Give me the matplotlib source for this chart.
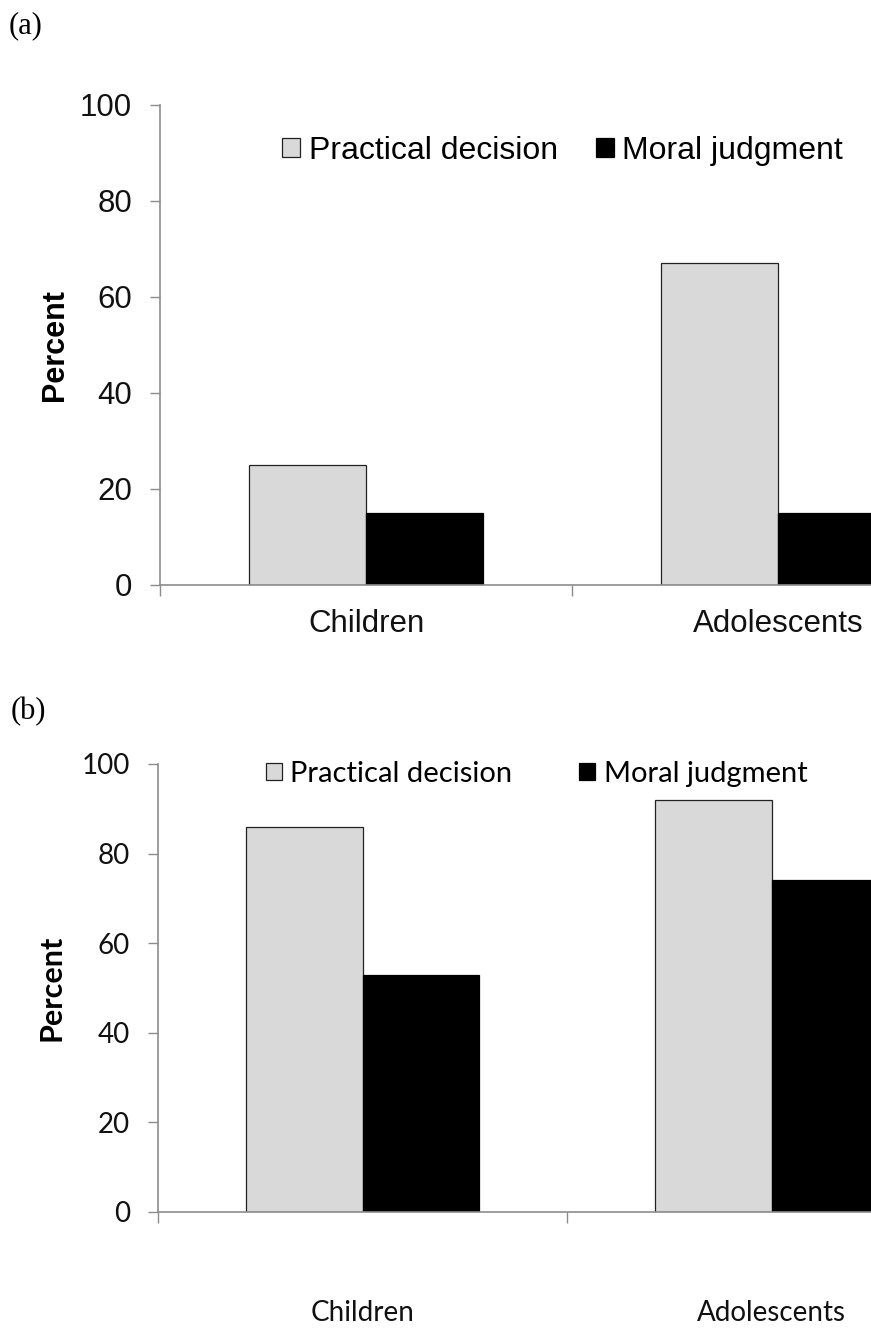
import matplotlib
matplotlib.use('Agg')
import matplotlib.pyplot as plt
import numpy as np

groups = ['Children', 'Adolescents']
series = ['Practical decision', 'Moral judgment']
practical_a = [25, 67]
moral_a = [15, 15]
practical_b = [86, 92]
moral_b = [53, 74]
yticks = [0, 20, 40, 60, 80, 100]

light = '#d9d9d9'
spine_col = '#8c8c8c'

W, H = 871, 1331
fig = plt.figure(figsize=(W / 100, H / 100), dpi=100)


def panel(rect, practical, moral, font, tick_size, xpad, label_size, labelpad,
          leg_size, leg_anchor, colspace):
    ax = fig.add_axes(rect)
    x = np.arange(len(groups))
    w = 0.285
    ax.bar(x - w / 2, practical, w, color=light, edgecolor='#222222', linewidth=0.9,
           label=series[0])
    ax.bar(x + w / 2, moral, w, color='black', edgecolor='black', linewidth=0.9,
           label=series[1])
    ax.set_xlim(-0.5, 1.5)
    ax.set_ylim(0, 100)
    ax.set_yticks(yticks)
    ax.set_yticklabels([str(v) for v in yticks], family=font, fontsize=tick_size,
                       color='#111111')
    ax.set_xticks(x)
    ax.set_xticklabels(groups, family=font, fontsize=tick_size, color='#111111')
    ax.set_xticks([-0.5, 0.5, 1.5], minor=True)
    ax.tick_params(axis='x', which='major', length=0, pad=xpad)
    ax.tick_params(axis='x', which='minor', length=8, color=spine_col, width=1)
    ax.tick_params(axis='y', length=7, color=spine_col, width=1, pad=13)
    for s in ['top', 'right']:
        ax.spines[s].set_visible(False)
    for s in ['left', 'bottom']:
        ax.spines[s].set_color(spine_col)
        ax.spines[s].set_linewidth(1.2)
    ax.set_ylabel('Percent', family=font, fontsize=label_size, fontweight='bold',
                  labelpad=labelpad)
    ax.legend(loc='center left', bbox_to_anchor=leg_anchor,
              bbox_transform=fig.transFigure, ncol=2, frameon=False,
              borderpad=0, borderaxespad=0,
              handlelength=0.55, handleheight=0.55, handletextpad=0.28,
              columnspacing=colspace, prop={'family': font, 'size': leg_size})
    return ax


panel([160 / W, 1 - 585 / H, 824 / W, 480 / H], practical_a, moral_a,
      ['Liberation Sans'], 22.5, 17.5, 22, 7.5, 23, (282 / W, 1 - 151 / H), 1.2)

panel([158 / W, 1 - 1212 / H, 818 / W, 448 / H], practical_b, moral_b,
      ['Lato'], 20, 63.5, 22, 12, 21, (266 / W, 1 - 774 / H), 2.3)

fig.text(9 / W, 1 - 26 / H, '(a)', family='Liberation Serif', fontsize=22,
         va='center', ha='left')
fig.text(11 / W, 1 - 712 / H, '(b)', family='Liberation Serif', fontsize=22,
         va='center', ha='left')

fig.savefig('out.png', dpi=100)
